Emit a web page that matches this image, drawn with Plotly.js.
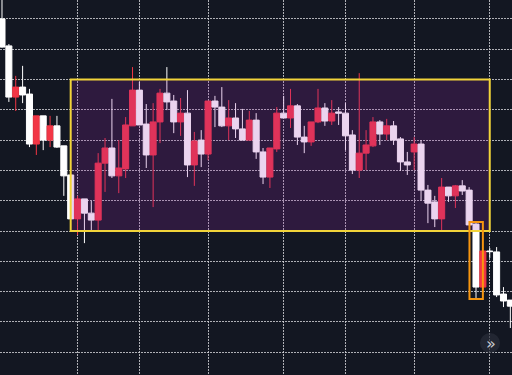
<!DOCTYPE html>
<html>
<head>
<meta charset="utf-8">
<script src="https://cdn.plot.ly/plotly-3.0.1.min.js"></script>
<style>
html,body{margin:0;padding:0;background:#131722;overflow:hidden;}
#chart{width:512px;height:375px;}
</style>
</head>
<body>
<div id="chart"></div>
<script>
// Candle data (price units: one grid step = 10)
const opens  = [170.0,161.1,144.2,147.5,145.2,128.7,138.0,130.0,134.7,128.1,
                118.5,104.0,110.6,105.9,103.6,122.4,127.4,118.2,120.5,134.7,
                146.5,135.3,125.1,136.0,145.5,142.9,136.0,138.9,121.8,130.0,
                125.4,142.9,140.9,134.7,137.3,133.7,130.0,136.6,126.1,117.8,
                127.1,138.9,137.3,141.3,131.0,129.4,136.0,140.6,136.3,139.3,
                138.9,131.7,120.1,125.7,128.1,136.0,132.0,134.7,130.4,122.8,
                126.1,128.7,113.5,109.6,104.0,114.5,111.6,114.9,113.5,102.3,
                81.5,93.4,93.1,79.2,77.2];
const highs  = [177.9,161.7,151.2,154.5,146.9,138.0,138.0,138.0,138.0,128.1,
                118.9,111.6,110.6,109.9,125.7,130.7,143.6,130.0,137.6,154.1,
                149.2,141.9,142.2,146.9,154.1,144.9,143.9,146.5,132.7,133.3,
                142.9,144.6,147.5,143.2,142.2,140.3,139.6,138.9,127.4,127.4,
                140.9,144.6,146.9,141.9,134.7,136.0,146.9,142.2,143.2,140.9,
                142.2,133.3,152.1,133.3,137.6,136.6,137.0,136.3,131.0,126.1,
                131.0,130.0,115.2,111.6,117.5,114.5,115.2,116.8,114.5,102.6,
                93.4,94.4,94.7,81.5,77.2];
const lows   = [160.5,142.6,139.6,142.2,127.7,125.1,126.7,127.7,127.4,111.6,
                103.8,98.7,96.0,100.3,99.7,112.9,117.5,112.5,117.5,134.7,
                135.0,120.8,107.9,129.0,139.9,132.3,131.4,117.8,114.9,121.1,
                123.4,134.3,134.3,130.0,130.7,130.0,130.0,123.8,115.5,114.2,
                126.1,137.3,134.0,128.4,125.7,128.1,135.6,134.7,135.0,135.0,
                126.7,118.8,117.5,120.1,127.7,128.4,130.0,128.4,119.8,118.5,
                120.1,110.2,102.6,101.3,99.7,109.6,107.6,111.9,102.0,77.9,
                81.5,91.1,78.2,74.9,68.0];
const closes = [160.7,144.2,147.5,144.9,128.7,138.0,130.0,134.7,127.7,118.2,
                104.0,110.6,105.9,103.6,122.4,127.4,118.2,120.8,135.0,146.5,
                135.0,125.1,136.0,145.5,142.6,136.0,138.9,121.8,129.7,125.4,
                142.9,140.9,134.7,137.3,133.7,130.0,136.6,126.1,117.8,127.4,
                138.9,137.3,141.3,131.0,129.4,136.0,140.6,136.3,138.9,138.9,
                131.4,120.1,125.7,128.4,136.0,132.0,134.7,130.0,122.8,121.8,
                128.7,113.5,109.2,104.0,114.5,111.6,114.9,113.2,102.0,81.5,
                93.4,93.2,78.9,76.9,75.2];
const bars = opens.map((_, i) => i);

// Drawn zones (bar index / price)
const rangeZone = {x0: 10, x1: 71, y0: 100, y1: 150};
const breakZone = {x0: 68.05, x1: 70, y0: 77.6, y1: 103};
const gridBars = [11, 20, 30, 41, 50, 60, 71];

const trace = {
  type: 'candlestick',
  x: bars, open: opens, high: highs, low: lows, close: closes,
  increasing: {line: {color: '#f23645', width: 1}, fillcolor: '#f23645'},
  decreasing: {line: {color: '#ffffff', width: 1}, fillcolor: '#ffffff'},
  whiskerwidth: 0,
  hoverinfo: 'skip'
};

const layout = {
  width: 512, height: 375,
  margin: {l: 0, r: 0, t: 0, b: 0},
  paper_bgcolor: '#131722', plot_bgcolor: '#131722',
  showlegend: false,
  boxgap: 0.12, boxgroupgap: 0,
  xaxis: {
    range: [-0.29, 74.24], rangeslider: {visible: false},
    tickvals: gridBars, showticklabels: false, ticks: '',
    showgrid: true, gridcolor: 'rgba(215,215,220,0.8)', griddash: '2px,1px', gridwidth: 1,
    zeroline: false, showline: false, fixedrange: true
  },
  yaxis: {
    range: [52.48, 176.24], dtick: 10, tick0: 0, showticklabels: false, ticks: '',
    showgrid: true, gridcolor: 'rgba(215,215,220,0.8)', griddash: '2px,1px', gridwidth: 1,
    zeroline: false, showline: false, fixedrange: true
  },
  shapes: [
    {type: 'rect', xref: 'x', yref: 'y', layer: 'above',
     x0: rangeZone.x0, x1: rangeZone.x1, y0: rangeZone.y0, y1: rangeZone.y1,
     fillcolor: 'rgba(156,39,176,0.2)', line: {color: '#f2d43a', width: 2}},
    {type: 'rect', xref: 'x', yref: 'y', layer: 'above',
     x0: breakZone.x0, x1: breakZone.x1, y0: breakZone.y0, y1: breakZone.y1,
     fillcolor: 'rgba(0,0,0,0)', line: {color: '#f7960f', width: 2}},
    {type: 'circle', xref: 'paper', yref: 'paper', layer: 'above',
     x0: 480/512, x1: 500/512, y0: 1 - 353/375, y1: 1 - 333/375,
     fillcolor: 'rgba(42,46,57,0.7)', line: {width: 0}}
  ],
  annotations: [
    {xref: 'paper', yref: 'paper', x: 490.5/512, y: 1 - 343/375,
     text: '»', showarrow: false, font: {family: 'DejaVu Sans', size: 16, color: '#c8cad0'},
     xanchor: 'center', yanchor: 'middle'}
  ]
};

Plotly.newPlot('chart', [trace], layout, {displayModeBar: false, staticPlot: true});
</script>
</body>
</html>
